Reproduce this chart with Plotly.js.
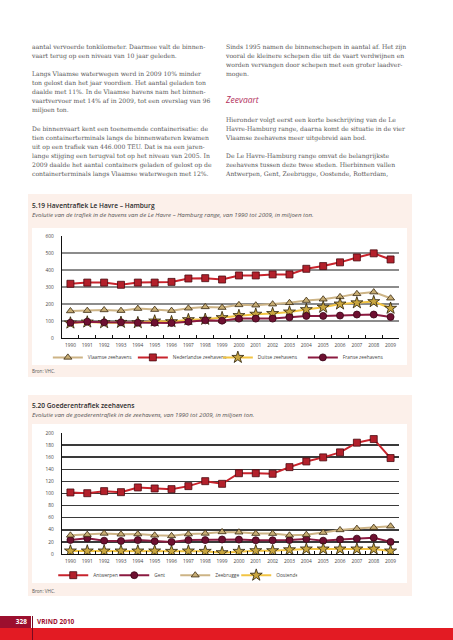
<!DOCTYPE html>
<html>
<head>
<meta charset="utf-8">
<script src="https://cdn.plot.ly/plotly-3.0.1.min.js"></script>
<style>
html,body{margin:0;padding:0;background:#fff;width:453px;height:640px;overflow:hidden;position:relative;}
.t{position:absolute;white-space:nowrap;font-family:"DejaVu Serif",serif;font-size:6.1px;color:#575757;line-height:9.1px;}
.box{position:absolute;background:#fcf0ea;}
.panel{position:absolute;background:#fff;}
.ct{position:absolute;white-space:nowrap;font-family:"Open Sans",sans-serif;font-weight:600;font-size:6.6px;color:#2a2a2a;}
.cs{position:absolute;white-space:nowrap;font-family:"Open Sans",sans-serif;font-style:italic;font-size:6.1px;color:#555;}
.src{position:absolute;white-space:nowrap;font-family:"Open Sans",sans-serif;font-size:4.6px;color:#555;}
</style>
</head>
<body>
<div class="t" style="left:32px;top:42px;">aantal vervoerde tonkilometer. Daarmee valt de binnen-<br>vaart terug op een niveau van 10 jaar geleden.</div>
<div class="t" style="left:32px;top:68.5px;">Langs Vlaamse waterwegen werd in 2009 10% minder<br>ton gelost dan het jaar voordien. Het aantal geladen ton<br>daalde met 11%. In de Vlaamse havens nam het binnen-<br>vaartvervoer met 14% af in 2009, tot een overslag van 96<br>miljoen ton.</div>
<div class="t" style="left:32px;top:123.5px;">De binnenvaart kent een toenemende containerisatie: de<br>tien containerterminals langs de binnenwateren kwamen<br>uit op een trafiek van 446.000 TEU. Dat is na een jaren-<br>lange stijging een terugval tot op het niveau van 2005. In<br>2009 daalde het aantal containers geladen of gelost op de<br>containerterminals langs Vlaamse waterwegen met 12%.</div>

<div class="t" style="left:226px;top:42px;">Sinds 1995 namen de binnenschepen in aantal af. Het zijn<br>vooral de kleinere schepen die uit de vaart verdwijnen en<br>worden vervangen door schepen met een groter laadver-<br>mogen.</div>
<div style="position:absolute;left:226px;top:94px;font-family:'Open Sans',sans-serif;font-style:italic;font-size:8.5px;color:#b3305c;">Zeevaart</div>
<div class="t" style="left:226px;top:114.5px;">Hieronder volgt eerst een korte beschrijving van de Le<br>Havre-Hamburg range, daarna komt de situatie in de vier<br>Vlaamse zeehavens meer uitgebreid aan bod.</div>
<div class="t" style="left:226px;top:151px;">De Le Havre-Hamburg range omvat de belangrijkste<br>zeehavens tussen deze twee steden. Hierbinnen vallen<br>Antwerpen, Gent, Zeebrugge, Oostende, Rotterdam,</div>

<div class="box" style="left:28px;top:194px;width:384px;height:183px;"></div>
<div class="ct" style="left:32px;top:201px;">5.19 Haventrafiek Le Havre – Hamburg</div>
<div class="cs" style="left:32px;top:210px;">Evolutie van de trafiek in de havens van de Le Havre – Hamburg range, van 1990 tot 2009, in miljoen ton.</div>
<div class="panel" style="left:32px;top:228px;width:375px;height:137px;"></div>
<div id="c1" style="position:absolute;left:32px;top:228px;width:375px;height:137px;"></div>
<div class="src" style="left:32px;top:368px;">Bron: VHC.</div>

<div class="box" style="left:28px;top:395px;width:384px;height:201px;"></div>
<div class="ct" style="left:32px;top:401px;">5.20 Goederentrafiek zeehavens</div>
<div class="cs" style="left:32px;top:410px;">Evolutie van de goederentrafiek in de zeehavens, van 1990 tot 2009, in miljoen ton.</div>
<div class="panel" style="left:32px;top:424px;width:375px;height:159px;"></div>
<div id="c2" style="position:absolute;left:32px;top:424px;width:375px;height:159px;"></div>
<div class="src" style="left:32px;top:588px;">Bron: VHC.</div>

<div style="position:absolute;left:0;top:616px;width:31px;height:12px;background:#9c0f2e;"></div>
<div style="position:absolute;left:0;top:618px;width:27px;text-align:right;font-family:'Open Sans',sans-serif;font-weight:700;font-size:6.5px;color:#fff;line-height:8px;">328</div>
<div style="position:absolute;left:37px;top:618px;font-family:'Open Sans',sans-serif;font-weight:700;font-size:6.5px;color:#a0122f;line-height:8px;">VRIND 2010</div>
<div style="position:absolute;left:0;top:628px;width:453px;height:12px;background:#e31b23;"></div>
<div style="position:absolute;left:32px;top:616px;width:1px;height:24px;background:#7a0a20;"></div>

<script>
const years = ['1990','1991','1992','1993','1994','1995','1996','1997','1998','1999','2000','2001','2002','2003','2004','2005','2006','2007','2008','2009'];

// Chart 5.19 (miljoen ton)
const vlaamse     = [159,161,165,161,173,167,161,175,183,179,195,193,199,207,220,228,242,260,270,234];
const nederlandse = [319,326,326,313,326,326,330,350,352,344,368,368,374,374,407,423,445,474,498,462];
const duitse      = [88,94,90,92,90,100,96,108,110,120,132,140,144,153,167,181,200,207,214,175];
const franse      = [90,96,92,92,90,90,88,96,104,102,114,114,114,122,130,130,132,138,138,124];

// Chart 5.20 (miljoen ton)
const antwerpen = [101.7,100.5,103.9,102.2,110,108.3,107.2,112.2,120.4,116,133.5,133.5,132.6,143.6,153,159.7,168,184,190,158.6];
const gent      = [23.2,26,22,21.5,23,21,20,23,23,24,23.8,22.7,22.7,23,25,22,24,25.4,27,20];
const zeebrugge = [30.9,32,34,32.6,33,31,30,33,34,36.5,36,33.7,33.7,31,32,35.4,39.8,42,43.6,45.9];
const oostende  = [5,5,5,5,5,5,4.4,5,4.4,2.2,4.4,5.5,5.5,7,8.3,8.3,8.3,8.3,8.3,5];

const S = {
  red:   {line:'#c8232c', fill:'#b3202b', out:'#4a0a10', sym:'square'},
  tan:   {line:'#cdb486', fill:'#c7ad74', out:'#3a2a10', sym:'triangle-up'},
  yel:   {line:'#f2c443', fill:'#c9a640', out:'#2a1e08', sym:'star'},
  mar:   {line:'#8b1a40', fill:'#6e1031', out:'#3a0515', sym:'circle'}
};
function tr(name, y, st, size){
  return {type:'scatter', mode:'lines+markers', name:name, x:years, y:y,
    line:{color:st.line, width:2},
    marker:{symbol:st.sym, size:size||7, color:st.fill, line:{color:st.out, width:0.8}}};
}
const font = {family:'"Open Sans", sans-serif', size:5, color:'#444'};

function layout(yr, dt, grid, h, t, b, legY, entryW, legX){
  return {
    width:375, height:h,
    margin:{l:30, r:8, t:t, b:b, pad:0, autoexpand:false},
    paper_bgcolor:'rgba(0,0,0,0)', plot_bgcolor:'#fff',
    font:font, showlegend:true,
    legend:{orientation:'h', x:legX, xanchor:'left', y:legY, yanchor:'middle',
      font:{family:'"Open Sans", sans-serif', size:4.8, color:'#444'},
      entrywidth:entryW, entrywidthmode:'pixels', itemwidth:30, bgcolor:'rgba(0,0,0,0)', tracegroupgap:0},
    xaxis:{type:'category', range:[-0.5,19.5], showgrid:false, zeroline:false, automargin:false,
      showline:true, linecolor:'#111', linewidth:1.3, ticks:'inside', tickson:'boundaries', ticklen:3,
      tickangle:0, ticklabelstandoff:2,
      tickcolor:'#111', tickwidth:1, tickfont:{size:4.8, color:'#444'}, fixedrange:true},
    yaxis:{range:yr, dtick:dt, showgrid:true, gridcolor:grid, gridwidth:1.6, zeroline:false, automargin:false,
      showline:true, linecolor:'#111', linewidth:1.3, ticks:'', ticklabelstandoff:6,
      tickfont:{size:4.8, color:'#444'}, fixedrange:true}
  };
}

Plotly.newPlot('c1', [
  tr('Vlaamse zeehavens', vlaamse, S.tan),
  tr('Nederlandse zeehavens', nederlandse, S.red),
  tr('Duitse zeehavens', duitse, S.yel, 9),
  tr('Franse zeehavens', franse, S.mar)
], layout([0,600], 100, '#8c8c8c', 137, 8, 27, -0.19, 40, -0.042), {staticPlot:true, displayModeBar:false});

Plotly.newPlot('c2', [
  tr('Antwerpen', antwerpen, S.red),
  tr('Gent', gent, S.mar),
  tr('Zeebrugge', zeebrugge, S.tan),
  tr('Oostende', oostende, S.yel, 9)
], layout([0,200], 20, '#3a3a3a', 159, 9, 29, -0.175, 16, -0.026), {staticPlot:true, displayModeBar:false});
</script>
</body>
</html>
